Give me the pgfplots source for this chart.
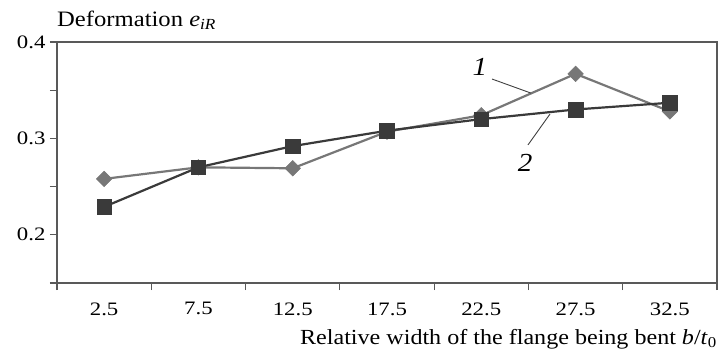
\documentclass[border=0pt]{standalone}
\usepackage{fontspec}
\setmainfont{Liberation Serif}[FakeStretch=1.12]
\newfontfamily\tickfont{Liberation Serif}[FakeStretch=1.2]
\usepackage{pgfplots}
\pgfplotsset{compat=1.18}
\definecolor{sone}{HTML}{777777}
\definecolor{stwo}{HTML}{3A3A3A}
\begin{document}
\begin{tikzpicture}
\path[use as bounding box] (-57pt,-74pt) rectangle (664pt,283pt);
\begin{axis}[
 at={(0pt,0pt)}, anchor=south west,
 scale only axis, width=660pt, height=241pt,
 xmin=0, xmax=7, ymin=0.15, ymax=0.4,
 axis line style={draw=black!65, line width=1.2pt},
 xtick pos=bottom, ytick pos=left,
 xtick={0,...,7}, xticklabels={},
 extra x ticks={0.5,1.5,2.5,3.5,4.5,5.5,6.5},
 extra x tick labels={2.5,7.5,12.5,17.5,22.5,27.5,32.5},
 extra x tick style={major tick length=0pt, grid=none},
 ytick={0.2,0.3,0.4}, yticklabels={0.2,0.3,0.4},
 minor ytick={0.15,0.25,0.35},
 tick align=outside, major tick length=7pt, minor tick length=7pt,
 tick style={draw=black!65, line width=1.2pt},
 every tick label/.append style={font=\tickfont\fontsize{19}{21}\selectfont},
 xticklabel style={yshift=-16pt},
 yticklabel style={xshift=-1pt},
 clip=false,
]
\addplot[sone, line width=2.2pt, mark=square*, mark size=5.5pt, mark options={rotate=45, fill=sone, draw=sone, line width=0.5pt}]
 coordinates {(0.5,0.258) (1.5,0.270) (2.5,0.269) (3.5,0.307) (4.5,0.324) (5.5,0.367) (6.5,0.328)};
\addplot[stwo, line width=2.2pt, mark=square*, mark size=7.3pt, mark options={fill=stwo, draw=stwo, line width=0.5pt}]
 coordinates {(0.5,0.229) (1.5,0.270) (2.5,0.292) (3.5,0.308) (4.5,0.320) (5.5,0.330) (6.5,0.337)};
\draw[black!75, line width=0.9pt] (axis cs:4.614,0.3616) -- (axis cs:5.027,0.347);
\draw[black!75, line width=0.9pt] (axis cs:4.995,0.2932) -- (axis cs:5.229,0.3253);
\node[font=\fontsize{26}{28}\selectfont\itshape, inner sep=0] at (axis cs:4.486,0.374) {1};
\node[font=\fontsize{26}{28}\selectfont\itshape, inner sep=0] at (axis cs:4.964,0.2745) {2};
\node[anchor=base west, inner sep=0, yshift=16pt, font=\fontsize{22}{24}\selectfont] at (rel axis cs:0,1) {Deformation \textit{e}\textsubscript{\textit{iR}}};
\node[anchor=base east, inner sep=0, yshift=-61pt, font=\fontsize{21.5}{24}\selectfont] at (rel axis cs:1,0) {Relative width of the flange being bent \textit{b}/\textit{t}\textsubscript{0}};
\end{axis}
\end{tikzpicture}
\end{document}
